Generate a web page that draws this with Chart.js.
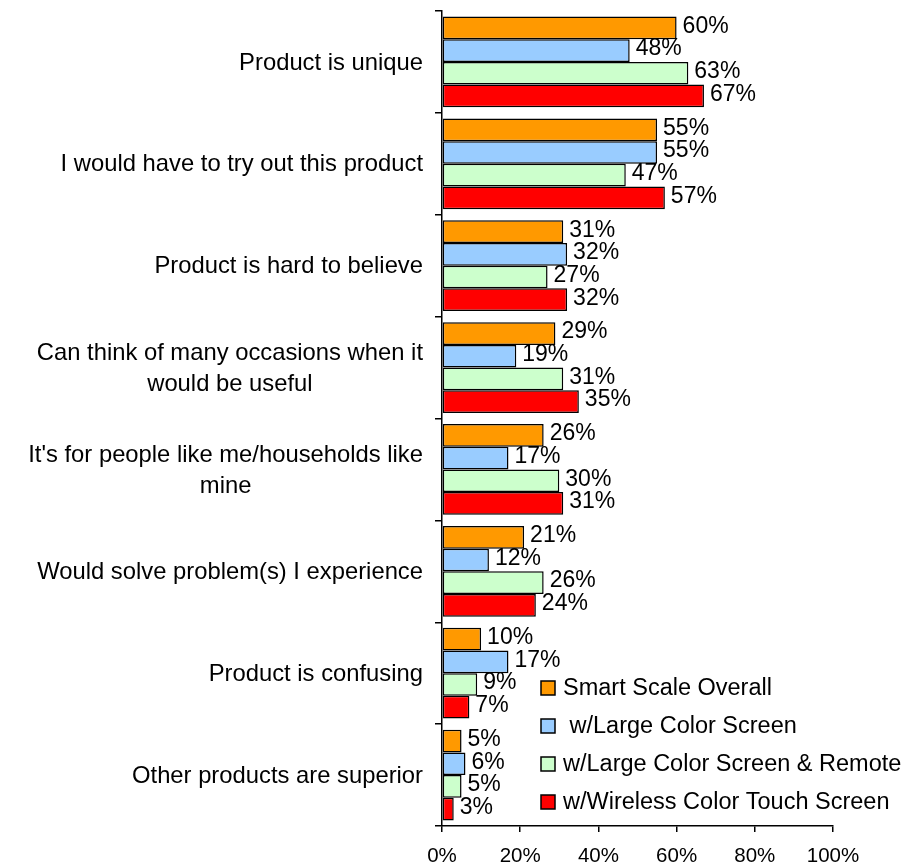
<!DOCTYPE html>
<html>
<head>
<meta charset="utf-8">
<script src="https://cdn.jsdelivr.net/npm/chart.js@4.4.0/dist/chart.umd.min.js"></script>
<style>
  html, body { margin: 0; padding: 0; background: #fff; }
  #wrap { width: 915px; height: 866px; position: relative; }
</style>
</head>
<body>
<div id="wrap"><canvas id="myChart"></canvas></div>
<script>
// Categories, top to bottom (multi-line ones split into arrays)
const categories = [
    'Product is unique',
    'I would have to try out this product',
    'Product is hard to believe',
    ['Can think of many occasions when it', 'would be useful'],
    ["It's for people like me/households like", 'mine'],
    'Would solve problem(s) I experience',
    'Product is confusing',
    'Other products are superior'
];

const seriesNames = [
    'Smart Scale Overall',
    ' w/Large Color Screen',
    'w/Large Color Screen & Remote',
    'w/Wireless Color Touch Screen'
];

// percent values per series
const overall   = [60, 55, 31, 29, 26, 21, 10, 5];
const largeScr  = [48, 55, 32, 19, 17, 12, 17, 6];
const withRemote = [63, 47, 27, 31, 30, 26, 9, 5];
const touchScr  = [67, 57, 32, 35, 31, 24, 7, 3];

const xTicks = [0, 20, 40, 60, 80, 100];

const colors = ['#FF9900', '#99CCFF', '#CCFFCC', '#FF0000'];

const FONT = '"Liberation Sans", Arial, sans-serif';

// category labels: right-aligned block, lines centred inside the block
const categoryLabels = {
    id: 'categoryLabels',
    afterDraw(chart) {
        const ctx = chart.ctx;
        const y = chart.scales.y;
        const right = chart.chartArea.left - 19;
        ctx.save();
        ctx.font = '23.8px ' + FONT;
        ctx.fillStyle = '#000';
        ctx.textAlign = 'center';
        ctx.textBaseline = 'middle';
        categories.forEach((lab, i) => {
            const lines = Array.isArray(lab) ? lab : [lab];
            const w = Math.max(...lines.map(l => ctx.measureText(l).width));
            const cx = right - w / 2;
            const cy = y.getPixelForValue(i);
            const lh = 31;
            lines.forEach((l, j) => {
                ctx.fillText(l, cx, cy + 1 + (j - (lines.length - 1) / 2) * lh);
            });
        });
        ctx.restore();
    }
};

// value labels at the end of each bar
const valueLabels = {
    id: 'valueLabels',
    afterDatasetsDraw(chart) {
        const ctx = chart.ctx;
        ctx.save();
        ctx.font = '23px ' + FONT;
        ctx.fillStyle = '#000';
        ctx.textAlign = 'left';
        ctx.textBaseline = 'middle';
        chart.data.datasets.forEach((ds, di) => {
            chart.getDatasetMeta(di).data.forEach((bar, i) => {
                ctx.fillText(ds.data[i] + '%', bar.x + 6, bar.y - 1.5);
            });
        });
        ctx.restore();
    }
};

// legend sitting inside the plot, lower right
const boxLegend = {
    id: 'boxLegend',
    afterDraw(chart) {
        const ctx = chart.ctx;
        const x0 = 541, y0 = 688, step = 38, box = 14;
        ctx.save();
        ctx.font = '23.5px ' + FONT;
        ctx.textAlign = 'left';
        ctx.textBaseline = 'middle';
        seriesNames.forEach((name, i) => {
            const cy = y0 + i * step;
            ctx.fillStyle = colors[i];
            ctx.fillRect(x0, cy - box / 2, box, box);
            ctx.strokeStyle = '#000';
            ctx.lineWidth = 1.5;
            ctx.strokeRect(x0, cy - box / 2, box, box);
            ctx.fillStyle = '#000';
            ctx.fillText(name, x0 + 22, cy + 1);
        });
        ctx.restore();
    }
};

const ctx = document.getElementById('myChart');
const series = [overall, largeScr, withRemote, touchScr];

new Chart(ctx, {
    type: 'bar',
    data: {
        labels: categories,
        datasets: series.map((vals, i) => ({
            label: seriesNames[i],
            data: vals,
            backgroundColor: colors[i],
            borderColor: '#000',
            borderWidth: 1.5,
            borderSkipped: false,
            categoryPercentage: 0.89,
            barPercentage: 1.0
        }))
    },
    options: {
        indexAxis: 'y',
        responsive: true,
        maintainAspectRatio: false,
        animation: false,
        layout: { padding: { top: 11, right: 82, bottom: 0, left: 0 } },
        plugins: {
            legend: { display: false },
            tooltip: { enabled: false }
        },
        scales: {
            x: {
                min: 0,
                max: 100,
                afterBuildTicks(scale) {
                    scale.ticks = xTicks.map(v => ({ value: v }));
                },
                afterFit(scale) { scale.height = 40; },
                border: { color: '#000', width: 1.5 },
                grid: { drawOnChartArea: false, color: '#000', tickLength: 6, lineWidth: 1.5 },
                ticks: {
                    color: '#000',
                    padding: 12,
                    maxRotation: 0,
                    font: { family: FONT, size: 20.5 },
                    callback: v => v + '%'
                }
            },
            y: {
                afterFit(scale) { scale.width = 442; },
                border: { color: '#000', width: 1.5 },
                grid: { drawOnChartArea: false, color: '#000', tickLength: 7, lineWidth: 1.5 },
                ticks: { display: false }
            }
        }
    },
    plugins: [categoryLabels, valueLabels, boxLegend]
});
</script>
</body>
</html>
